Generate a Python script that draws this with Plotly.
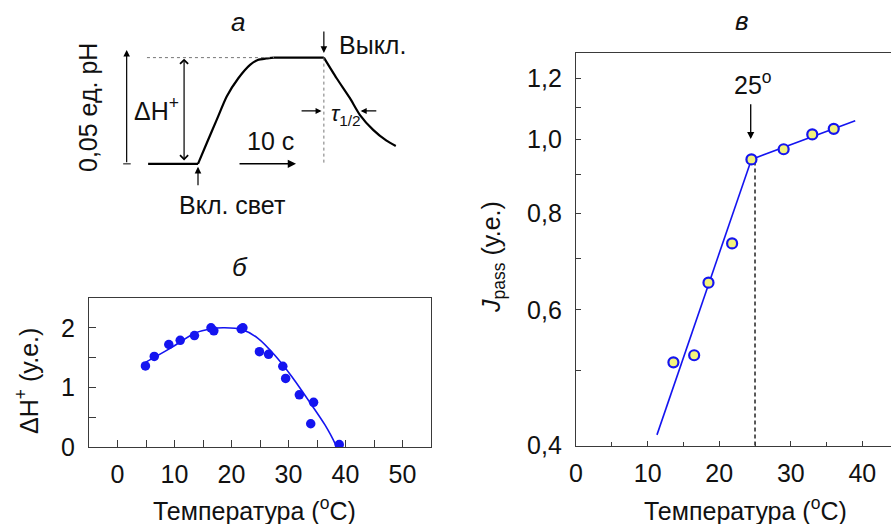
import numpy as np
import plotly.graph_objects as go

W, H = 891, 524

# ---------------- data ----------------
# panel б : ΔH+ vs temperature
b_temp = [4.9, 6.45, 9.0, 11.0, 13.5, 16.4, 16.9, 21.7, 22.0, 24.9, 26.5, 29.0, 29.5, 31.9, 33.9, 34.4, 38.9]
b_dh = [1.36, 1.52, 1.72, 1.79, 1.87, 2.0, 1.95, 1.98, 2.0, 1.60, 1.555, 1.355, 1.15, 0.875, 0.39, 0.75, 0.04]
b_fit_t = [4.9, 9.15, 13.56, 16.5, 18.8, 21.8, 24.7, 27.6, 30.6, 34.1, 36.4, 38.2, 38.4]
b_fit_dh = [1.42, 1.65, 1.91, 1.985, 2.0, 1.97, 1.82, 1.54, 1.18, 0.70, 0.37, 0.05, 0.0]

# panel в : J_pass vs temperature (log scale)
v_temp = [13.6, 16.5, 18.5, 21.8, 24.5, 29.0, 33.0, 36.0]
v_j = [0.513, 0.524, 0.651, 0.732, 0.941, 0.970, 1.014, 1.031]
v_fit1_t = [11.3, 24.5]
v_fit1_j = [0.413, 0.941]
v_fit2_t = [24.5, 39.0]
v_fit2_j = [0.941, 1.056]
v_break_t = [25.0, 25.0]
v_break_j = [0.4, 0.941]
v_arrow_t = 24.4
v_arrow_from, v_arrow_to = 1.115, 1.0

b_xticks = [0, 10, 20, 30, 40, 50]
b_yticks = [0, 1, 2]
v_xticks = [0, 10, 20, 30, 40]
v_yticks = [0.4, 0.6, 0.8, 1.0, 1.2]
v_yticktext = ["0,4", "0,6", "0,8", "1,0", "1,2"]
v_yminor = [0.5, 0.7, 0.9, 1.1]

# panel а : schematic kinetics (time, s; pH units)
base_t = [-8.6, 0.0]
base_ph = [0.0, 0.0]
rise_t = [0.0, 1.5, 3.22, 4.95, 6.95, 8.97, 10.3, 11.8, 13.1]
rise_ph = [0.0, 0.0097, 0.0207, 0.0317, 0.0403, 0.0466, 0.0489, 0.0496, 0.05]
plat_t = [13.1, 21.7]
plat_ph = [0.05, 0.05]
decay_t = [21.7, 23.9, 26.2, 27.9, 30.2, 32.5, 34.1]
decay_ph = [0.05, 0.0403, 0.0309, 0.0231, 0.016, 0.0109, 0.0084]
t_on, t_off = 0.0, 21.7
ph_level = 0.05

# ---------------- helpers ----------------
def px(x):
    return x / W

def py(y):
    return 1 - y / H

FONT = "Liberation Sans, Arial, sans-serif"
BLUE = "#1414F0"
AX = "#3a3a3a"
FS = 25

fig = go.Figure()

# panel б
fig.add_trace(go.Scatter(x=b_fit_t, y=b_fit_dh, mode="lines", line=dict(color=BLUE, width=1.6, shape="spline", smoothing=0.8),
                         xaxis="x", yaxis="y", hoverinfo="skip"))
fig.add_trace(go.Scatter(x=b_temp, y=b_dh, mode="markers", marker=dict(color=BLUE, size=9.5, line=dict(width=0)),
                         xaxis="x", yaxis="y"))

# panel в
fig.add_trace(go.Scatter(x=v_break_t, y=v_break_j, mode="lines", line=dict(color="black", width=1.3, dash="4px,3px"),
                         xaxis="x2", yaxis="y2"))
fig.add_trace(go.Scatter(x=v_fit1_t, y=v_fit1_j, mode="lines", line=dict(color=BLUE, width=1.6), xaxis="x2", yaxis="y2"))
fig.add_trace(go.Scatter(x=v_fit2_t, y=v_fit2_j, mode="lines", line=dict(color=BLUE, width=1.6), xaxis="x2", yaxis="y2"))
fig.add_trace(go.Scatter(x=v_temp, y=v_j, mode="markers",
                         marker=dict(color="#F3F37C", size=10, line=dict(color=BLUE, width=2.2)),
                         xaxis="x2", yaxis="y2"))

# panel а
for tt, pp in [(base_t, base_ph), (plat_t, plat_ph)]:
    fig.add_trace(go.Scatter(x=tt, y=pp, mode="lines", line=dict(color="black", width=2.2), xaxis="x3", yaxis="y3"))
for tt, pp in [(rise_t, rise_ph), (decay_t, decay_ph)]:
    fig.add_trace(go.Scatter(x=tt, y=pp, mode="lines", line=dict(color="black", width=2.2, shape="spline", smoothing=0.6),
                             xaxis="x3", yaxis="y3"))
# dashed guides
fig.add_trace(go.Scatter(x=[-8.8, 13.1], y=[ph_level, ph_level], mode="lines",
                         line=dict(color="#777", width=1, dash="3px,3px"), xaxis="x3", yaxis="y3"))
fig.add_trace(go.Scatter(x=[t_off, t_off], y=[ph_level, -0.0005], mode="lines",
                         line=dict(color="#777", width=1, dash="3px,3px"), xaxis="x3", yaxis="y3"))
# scale bar bottom tick
fig.add_trace(go.Scatter(x=[-12.9, -11.6], y=[0, 0], mode="lines", line=dict(color="black", width=1),
                         xaxis="x3", yaxis="y3"))

ann = []

def arrow(x0, y0, x1, y1, side="end", head=2, size=1.0, width=1.2):
    ann.append(dict(x=x1, y=y1, ax=x0, ay=y0, xref="x3", yref="y3", axref="x3", ayref="y3",
                    showarrow=True, text="", arrowhead=head, startarrowhead=head, arrowside=side,
                    arrowsize=size, startarrowsize=size, arrowwidth=width, arrowcolor="black", standoff=0, startstandoff=0))

arrow(-12.3, 0.0, -12.3, 0.0536, head=2, size=1.1)           # scale bar
arrow(-2.4, 0.0009, -2.4, 0.0495, side="end+start", head=4, size=1.3)  # ΔH+
arrow(t_on, -0.0108, t_on, -0.0014, head=2, size=1.1)        # light on
arrow(t_off, 0.063, t_off, 0.0522, head=2, size=1.1)         # light off
arrow(6.9, 0.0, 16.9, 0.0, head=2, size=1.1, width=1.5)      # 10 s
arrow(17.6, 0.0249, 21.3, 0.0249, head=2, size=1.0)          # tau left
arrow(31.0, 0.0249, 28.05, 0.0249, head=2, size=1.0)         # tau right

# arrow at 25° (log axis -> log10 coordinates)
ann.append(dict(x=v_arrow_t, y=np.log10(v_arrow_to), ax=v_arrow_t, ay=np.log10(v_arrow_from),
                xref="x2", yref="y2", axref="x2", ayref="y2", showarrow=True, text="",
                arrowhead=2, arrowsize=1.1, arrowwidth=1.3, arrowcolor="black", standoff=0))

def text(t, x, y, size=FS, angle=0, xanchor="center"):
    ann.append(dict(text=t, x=px(x), y=py(y), xref="paper", yref="paper", showarrow=False,
                    font=dict(family=FONT, size=size, color="#111"), textangle=angle,
                    xanchor=xanchor, yanchor="middle"))

text("<i>а</i>", 238, 22, size=26)
text("<i>б</i>", 240, 267, size=26)
text("<i>в</i>", 742, 21, size=26)
text("Выкл.", 337, 45, xanchor="left")
text("Вкл. свет", 233, 205)
text("10 с", 270, 141)
text("ΔH<sup>+</sup>", 156, 109)
text("0,05 ед. pH", 88, 108, angle=-90)
text("<i>τ</i><sub>1/2</sub>", 346, 115, size=22)
text("25<sup>o</sup>", 753, 83)
text("Температура (<sup>o</sup>C)", 255, 509)
text("Температура (<sup>o</sup>C)", 745, 509)
text("ΔH<sup>+</sup> (у.е.)", 27, 381, angle=-90)
text("<i>J</i><sub>pass</sub> (у.е.)", 493, 257, angle=-90)

common = dict(showgrid=False, zeroline=False, showline=True, linecolor=AX, linewidth=1.3,
              ticks="inside", tickcolor=AX, tickwidth=1.2,
              tickfont=dict(family=FONT, size=FS, color="#111"))

fig.update_layout(
    width=W, height=H, margin=dict(l=0, r=0, t=0, b=0),
    paper_bgcolor="white", plot_bgcolor="white", showlegend=False,
    font=dict(family=FONT, color="#111"),
    xaxis=dict(domain=[px(89), px(431)], range=[-5, 55], tickvals=b_xticks, ticklen=7, mirror=True,
               minor=dict(dtick=5, ticklen=7, ticks="inside", tickcolor=AX, tickwidth=1.2),
               ticklabelstandoff=5, anchor="y", automargin=False, **common),
    yaxis=dict(domain=[py(447), py(298)], range=[0, 2.5], tickvals=b_yticks, ticklen=7, mirror=True,
               minor=dict(dtick=0.5, ticklen=7, ticks="inside", tickcolor=AX, tickwidth=1.2),
               ticklabelstandoff=8, anchor="x", automargin=False, **common),
    xaxis2=dict(domain=[px(576), 1.0], range=[-0.01, 44.0], tickvals=v_xticks, ticklen=5, mirror=True,
                minor=dict(dtick=5, ticklen=4, ticks="inside", tickcolor=AX, tickwidth=1.2),
                ticklabelstandoff=5, anchor="y2", automargin=False, **common),
    yaxis2=dict(domain=[py(446), py(53)], type="log", range=[np.log10(0.3995), 0.1117],
                tickvals=v_yticks, ticktext=v_yticktext, ticklen=5, mirror=False,
                minor=dict(tickvals=v_yminor, ticklen=5, ticks="inside", tickcolor=AX, tickwidth=1.2),
                ticklabelstandoff=8, anchor="x2", automargin=False, **common),
    xaxis3=dict(domain=[px(82), px(430)], range=[-20, 40], visible=False, anchor="y3"),
    yaxis3=dict(domain=[py(200), py(30)], range=[-0.017, 0.063], visible=False, anchor="x3"),
    annotations=ann,
)

fig.write_html("out.html", config={"responsive": False, "displayModeBar": False},
               post_script="document.body.style.margin='0';document.body.style.overflow='hidden';")
